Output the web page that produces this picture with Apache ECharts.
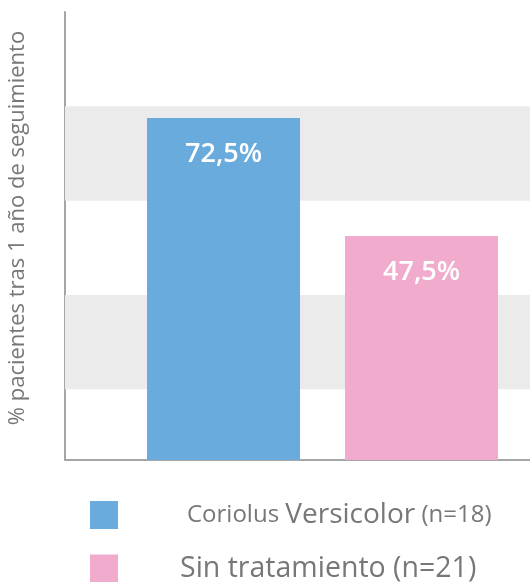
<!DOCTYPE html>
<html>
<head>
<meta charset="utf-8">
<script src="https://cdn.jsdelivr.net/npm/echarts@6/dist/echarts.min.js"></script>
<style>
 html,body{margin:0;padding:0;background:#fff;}
 #chart{width:530px;height:582px;}
</style>
</head>
<body>
<div id="chart"></div>
<script>
var seriesNames = ['Coriolus Versicolor (n=18)', 'Sin tratamiento (n=21)'];
var seriesValues = [72.5, 47.5];
var seriesColors = ['#6aabdd', '#f1abcc'];
var bandRanges = [[15, 35], [55, 75]];
var yName = '% pacientes tras 1 año de seguimiento';

var chart = echarts.init(document.getElementById('chart'));

var series = seriesNames.map(function (name, i) {
    var s = {
        name: name,
        type: 'bar',
        data: [seriesValues[i]],
        barWidth: 153,
        barGap: '29.4%',
        itemStyle: { color: seriesColors[i] },
        label: {
            show: true,
            position: 'insideTop',
            distance: 23,
            color: '#fff',
            fontFamily: 'Open Sans',
            fontWeight: 600,
            fontSize: 27,
            formatter: function (p) {
                return p.value.toFixed(1).replace('.', ',') + '%';
            }
        }
    };
    if (i === 0) {
        s.markArea = {
            silent: true,
            itemStyle: { color: '#ebebeb' },
            data: bandRanges.map(function (b) {
                return [{ yAxis: b[0] }, { yAxis: b[1] }];
            })
        };
    }
    return s;
});

var option = {
    animation: false,
    grid: { left: 65, right: -50, top: 12, bottom: 122, outerBoundsMode: 'none' },
    legend: {
        orient: 'vertical',
        left: 90,
        top: 501,
        height: 200,
        padding: 0,
        itemWidth: 28,
        itemHeight: 28,
        itemGap: 25,
        icon: 'rect',
        data: seriesNames,
        formatter: function (name) {
            if (name === seriesNames[0]) {
                return '{s1|Coriolus }{b|Versicolor}{s| (n=18)}';
            }
            return '{b2|' + name + '}';
        },
        textStyle: {
            color: '#777',
            fontFamily: 'Open Sans',
            rich: {
                s1: { fontSize: 24, color: '#777', fontFamily: 'Open Sans', lineHeight: 28, padding: [0, 0, 0, 64] },
                s: { fontSize: 24, color: '#777', fontFamily: 'Open Sans', lineHeight: 28 },
                b: { fontSize: 28, color: '#777', fontFamily: 'Open Sans', lineHeight: 28 },
                b2: { fontSize: 28.5, color: '#777', fontFamily: 'Open Sans', lineHeight: 28, padding: [0, 0, 0, 57] }
            }
        }
    },
    xAxis: {
        type: 'category',
        data: [''],
        axisLine: { lineStyle: { color: '#a6a6a6', width: 2 } },
        axisTick: { show: false },
        axisLabel: { show: false }
    },
    yAxis: {
        type: 'value',
        min: 0,
        max: 95,
        name: yName,
        nameLocation: 'middle',
        nameGap: 36,
        nameTextStyle: { color: '#777', fontFamily: 'Open Sans', fontSize: 22, padding: [0, 0, 0, 16] },
        axisLine: { show: true, lineStyle: { color: '#a6a6a6', width: 2 } },
        axisTick: { show: false },
        axisLabel: { show: false },
        splitLine: { show: false }
    },
    series: series
};
chart.setOption(option);
</script>
</body>
</html>
